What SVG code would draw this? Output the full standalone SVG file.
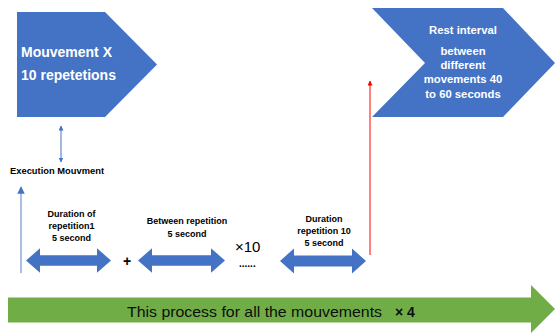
<svg xmlns="http://www.w3.org/2000/svg" width="556" height="336" viewBox="0 0 556 336">
<defs>
<style>
.blk{fill:#4472C4;}
.wt{fill:#FFFFFF;font-family:"Liberation Sans",Arial,sans-serif;font-weight:bold;}
.bt{fill:#000000;font-family:"Liberation Sans",Arial,sans-serif;font-weight:bold;font-size:9px;text-anchor:middle;}
</style>
<marker id="ab" viewBox="0 0 10 10" refX="9" refY="5" markerWidth="5" markerHeight="5" orient="auto-start-reverse"><path d="M0,0 L10,5 L0,10 z" fill="#4472C4"/></marker>
<marker id="al" viewBox="0 0 10 10" refX="9" refY="5" markerWidth="5" markerHeight="5" orient="auto"><path d="M0,0 L10,5 L0,10 z" fill="#4472C4"/></marker>
<marker id="ar" viewBox="0 0 10 10" refX="9" refY="5" markerWidth="5" markerHeight="5" orient="auto"><path d="M0,0 L10,5 L0,10 z" fill="#FF0000"/></marker>
</defs>
<rect width="556" height="336" fill="#FFFFFF"/>
<g id="movement">
<polygon class="blk" points="17,12 105,12 157,64.5 105,117 17,117"/>
<text class="wt" x="21" y="57" font-size="14">Mouvement X</text>
<text class="wt" x="21" y="80" font-size="14">10 repetetions</text>
</g>
<g id="rest">
<polygon class="blk" points="372,8 503,8 555,63 503,117 372,117 425,63"/>
<text class="wt" x="463" y="34" font-size="11.3" text-anchor="middle">Rest interval</text>
<text class="wt" x="463" y="55" font-size="11.3" text-anchor="middle">between</text>
<text class="wt" x="463" y="69" font-size="11.3" text-anchor="middle">different</text>
<text class="wt" x="463" y="83" font-size="11.3" text-anchor="middle">movements 40</text>
<text class="wt" x="463" y="98" font-size="11.3" text-anchor="middle">to 60 seconds</text>
</g>
<g id="execution">
<text x="10" y="174" font-family="'Liberation Sans',Arial,sans-serif" font-weight="bold" font-size="9px" fill="#000" textLength="94" lengthAdjust="spacingAndGlyphs">Execution Mouvment</text>
</g>
<g id="rep1">
<polygon class="blk" points="26,260.5 40,248.3 40,255.2 97,255.2 97,248.3 111,260.5 97,272.7 97,265.8 40,265.8 40,272.7"/>
<text class="bt" x="71.5" y="217">Duration of</text>
<text class="bt" x="71.5" y="229">repetition1</text>
<text class="bt" x="71.5" y="241">5 second</text>
</g>
<g id="between">
<polygon class="blk" points="138,260.5 152,248.3 152,255.2 211,255.2 211,248.3 225,260.5 211,272.7 211,265.8 152,265.8 152,272.7"/>
<text class="bt" x="187" y="224">Between repetition</text>
<text class="bt" x="187" y="237">5 second</text>
</g>
<g id="rep10">
<polygon class="blk" points="280,261 294,248.5 294,255.5 352,255.5 352,248.5 366,261 352,273.5 352,266.5 294,266.5 294,273.5"/>
<text class="bt" x="324" y="222">Duration</text>
<text class="bt" x="324" y="234">repetition 10</text>
<text class="bt" x="324" y="246">5 second</text>
</g>
<g id="symbols" font-family="'Liberation Sans',Arial,sans-serif" fill="#000">
<text x="127" y="266" font-size="14" font-weight="bold" text-anchor="middle">+</text>
<text x="235" y="252" font-size="15">×10</text>
<text x="239" y="267" font-size="10" font-weight="bold">......</text>
</g>
<g id="process">
<polygon fill="#70AD47" points="8,297.5 531,297.5 531,285 555,309 531,333 531,322.5 8,322.5"/>
<text x="127" y="317" font-family="'Liberation Sans',Arial,sans-serif" font-size="15" fill="#0D0D0D" textLength="255" lengthAdjust="spacingAndGlyphs">This process for all the mouvements</text>
<text x="395" y="317" font-family="'Liberation Sans',Arial,sans-serif" font-size="14" font-weight="bold" fill="#0D0D0D">× 4</text>
</g>
<g id="connectors" fill="none">
<line x1="61" y1="126" x2="61" y2="162" stroke="#4472C4" stroke-width="1" marker-start="url(#ab)" marker-end="url(#ab)"/>
<line x1="21" y1="273" x2="21" y2="187" stroke="#8FAADC" stroke-width="1.5" marker-end="url(#al)"/>
<line x1="370" y1="255" x2="370" y2="81" stroke="#FF0000" stroke-width="1" marker-end="url(#ar)"/>
</g>
</svg>
